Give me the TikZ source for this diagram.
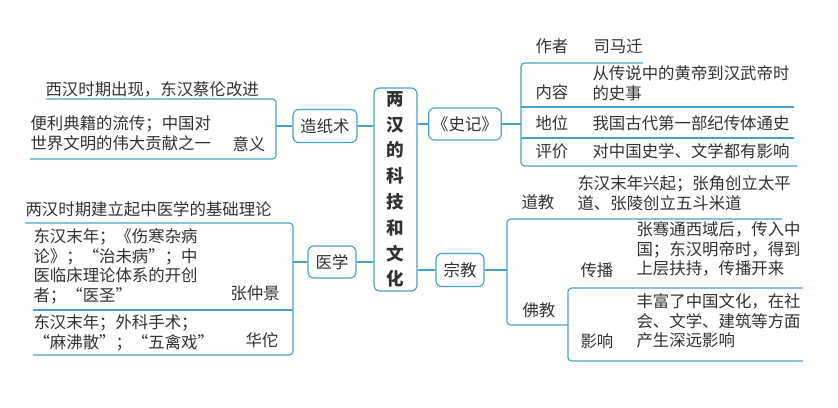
\documentclass[tikz,border=0pt]{standalone}
\usepackage{fontspec}
\setmainfont{Noto Sans CJK SC}
\usetikzlibrary{positioning}
\definecolor{lineblue}{RGB}{72,160,205}
\definecolor{ink}{RGB}{50,50,50}
\begin{document}
\begin{tikzpicture}[x=0.03cm, y=-0.03cm,
    line width=1pt,
    box/.style={draw=lineblue, rounded corners=5pt, fill=white, inner sep=3pt, text=ink, font=\fontsize{14}{17}\selectfont},
    txt/.style={anchor=north west, inner sep=0pt, align=left, text=ink, font=\fontsize{14}{16.8}\selectfont},
    br/.style={draw=lineblue, rounded corners=3pt}]
    \useasboundingbox (0,0) rectangle (838,407);

    % centre and topics
    \node[box, minimum width=43*0.03cm, minimum height=193*0.03cm, align=center, font=\fontsize{15}{22}\selectfont\bfseries] (root) at (395.5,189.5) {两\\汉\\的\\科\\技\\和\\文\\化};
    \node[box, minimum width=64*0.03cm, minimum height=33*0.03cm] (paper) at (325,126) {造纸术};
    \node[box, minimum width=48*0.03cm, minimum height=32*0.03cm] (med) at (332,262) {医学};
    \node[box, minimum width=64*0.03cm, minimum height=32*0.03cm] (shiji) at (465,124) {《史记》};
    \node[box, minimum width=48*0.03cm, minimum height=33*0.03cm] (rel) at (460,270) {宗教};
    \draw[br] (paper) -- (root.west |- paper);
    \draw[br] (med) -- (root.west |- med);
    \draw[br] (shiji) -- (root.east |- shiji);
    \draw[br] (rel) -- (root.east |- rel);

    % paper
    \draw[br] (46,99) -- (276,99) -- (276,159) -- (30,159);
    \draw[br] (paper.west) -- (276,126);
    \node[txt] (p1) at (45,81) {西汉时期出现，东汉蔡伦改进};
    \node[txt] (p2) at (30,115) {便利典籍的流传；中国对\\世界文明的伟大贡献之一};
    \node[txt] (p3) at (232,136) {意义};

    % medicine
    \draw[br] (25,223) -- (293,223) -- (293,355) -- (33,355);
    \draw[br] (33,310) -- (293,310);
    \draw[br] (med.west) -- (293,262);
    \node[txt] (m1) at (25,201) {两汉时期建立起中医学的基础理论};
    \node[txt] (m2) at (33,228) {东汉末年；《伤寒杂病\\论》；“治未病”；中\\医临床理论体系的开创\\者；“医圣”};
    \node[txt] (m3) at (230,285) {张仲景};
    \node[txt] (m4) at (33,314) {东汉末年；外科手术；\\“麻沸散”；“五禽戏”};
    \node[txt] (m5) at (245,332) {华佗};

    % shiji
    \draw[br] (643,63) -- (521,63) -- (521,166) -- (797,166);
    \draw[br] (521,107) -- (794,107);
    \draw[br] (521,138) -- (794,138);
    \draw[br] (shiji.east) -- (521,124);
    \node[txt] (s1) at (535,38) {作者};
    \node[txt] (s2) at (593,38) {司马迁};
    \node[txt] (s3) at (535,84) {内容};
    \node[txt] (s4) at (592,65) {从传说中的黄帝到汉武帝时\\的史事};
    \node[txt] (s5) at (535,115) {地位};
    \node[txt] (s6) at (592,115) {我国古代第一部纪传体通史};
    \node[txt] (s7) at (535,143) {评价};
    \node[txt] (s8) at (592,143) {对中国史学、文学都有影响};

    % religion
    \draw[br] (782,219) -- (507,219) -- (507,325) -- (568,325);
    \draw[br] (803,288) -- (568,288) -- (568,361) -- (803,361);
    \draw[br] (rel.east) -- (507,270);
    \node[txt] (r1) at (521,194) {道教};
    \node[txt] (r2) at (577,175) {东汉末年兴起；张角创立太平\\道、张陵创立五斗米道};
    \node[txt] (r3) at (522,302) {佛教};
    \node[txt] (r4) at (580,262) {传播};
    \node[txt] (r5) at (636,221) {张骞通西域后，传入中\\国；东汉明帝时，得到\\上层扶持，传播开来};
    \node[txt] (r6) at (580,333) {影响};
    \node[txt] (r7) at (636,293) {丰富了中国文化，在社\\会、文学、建筑等方面\\产生深远影响};
\end{tikzpicture}
\end{document}
